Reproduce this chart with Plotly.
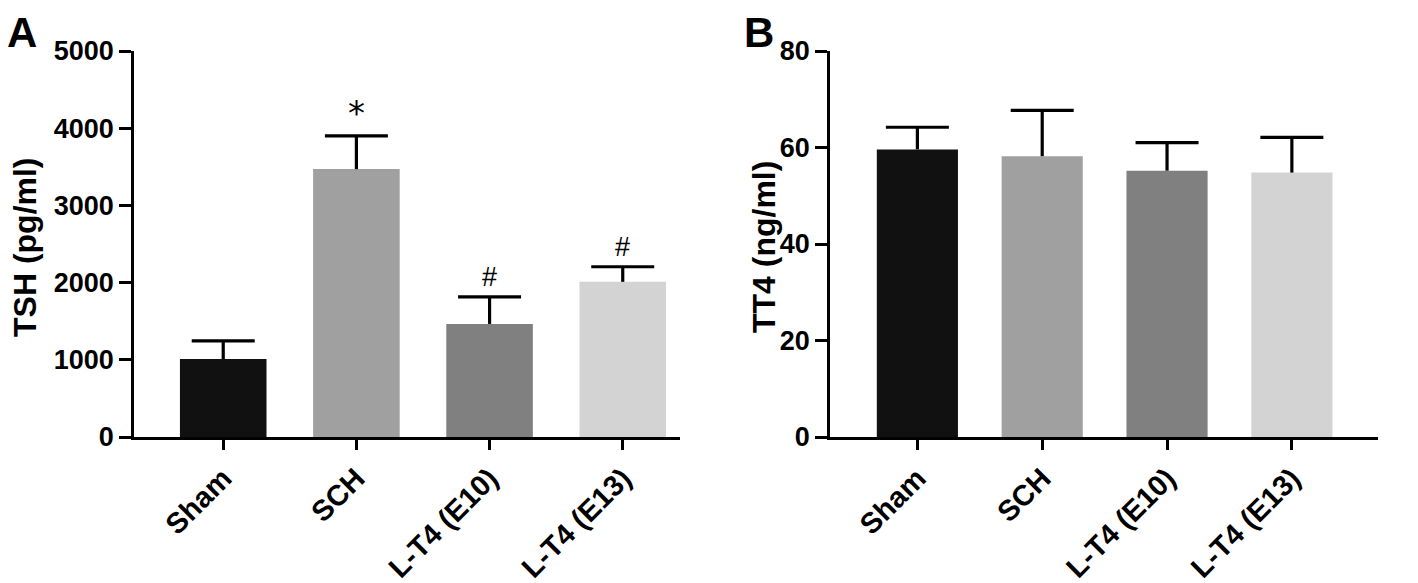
import plotly.graph_objects as go

categories = ["Sham", "SCH", "L-T4 (E10)", "L-T4 (E13)"]
bar_colors = ["#111111", "#a0a0a0", "#808080", "#d3d3d3"]

tsh_mean = [1010, 3470, 1465, 2010]
tsh_sem = [235, 430, 350, 195]
tsh_marks = ["", "*", "#", "#"]

tt4_mean = [59.6, 58.2, 55.2, 54.8]
tt4_sem = [4.6, 9.5, 5.8, 7.3]

tsh_ticks = [0, 1000, 2000, 3000, 4000, 5000]
tt4_ticks = [0, 20, 40, 60, 80]

# page body margin offset (browser default) -> work in screen pixels
OFF = 8
W, H = 1418 - OFF, 583 - OFF
FONT = "Liberation Sans"


def px(x):
    return (x - OFF) / W


def py(y):
    return 1 - (y - OFF) / H


fig = go.Figure()


def add_panel(mean, sem, xa, ya):
    fig.add_trace(go.Bar(
        x=categories, y=mean, width=0.65,
        marker=dict(color=bar_colors, line=dict(width=0)),
        xaxis=xa, yaxis=ya, showlegend=False, hoverinfo="skip"))
    tops = [m + s for m, s in zip(mean, sem)]
    fig.add_trace(go.Scatter(
        x=categories, y=tops, mode="markers",
        marker=dict(symbol="line-ew", size=45, color="black",
                    line=dict(width=3.2, color="black")),
        error_y=dict(type="data", symmetric=False, array=[0] * len(sem),
                     arrayminus=sem, width=0, thickness=3.2, color="black"),
        xaxis=xa, yaxis=ya, showlegend=False, hoverinfo="skip"))
    return tops


tsh_tops = add_panel(tsh_mean, tsh_sem, "x", "y")
add_panel(tt4_mean, tt4_sem, "x2", "y2")

axis_common = dict(showline=True, linecolor="black", linewidth=2.6,
                   ticks="outside", tickcolor="black", tickwidth=2.6,
                   showgrid=False, zeroline=False, automargin=False)
ytickfont = dict(family=FONT, size=27, color="black", weight="bold")
xtickfont = dict(family=FONT, size=29, color="black", weight="bold")

fig.update_layout(
    template="none",
    width=W, height=H,
    margin=dict(l=0, r=0, t=0, b=0, autoexpand=False),
    plot_bgcolor="white", paper_bgcolor="white",
    xaxis=dict(domain=[px(134), px(680)], range=[-0.67, 3.43], ticklen=10,
               tickangle=-45, anchor="y", tickfont=xtickfont, **axis_common),
    yaxis=dict(domain=[py(437), py(51)], range=[0, 5000], tickvals=tsh_ticks,
               ticklen=12, anchor="x", tickfont=ytickfont, **axis_common),
    xaxis2=dict(domain=[px(830), px(1378)], range=[-0.70, 3.69], ticklen=10,
                tickangle=-45, anchor="y2", tickfont=xtickfont, **axis_common),
    yaxis2=dict(domain=[py(437), py(51)], range=[0, 80], tickvals=tt4_ticks,
                ticklen=12, anchor="x2", tickfont=ytickfont, **axis_common),
)

# significance marks
for cat, top, mark in zip(categories, tsh_tops, tsh_marks):
    if not mark:
        continue
    if mark == "*":
        font = dict(family="DejaVu Sans", size=34, color="black")
        shift = 23
    else:
        font = dict(family=FONT, size=27, color="black")
        shift = 20
    fig.add_annotation(x=cat, y=top, xref="x", yref="y", text=mark,
                       showarrow=False, yanchor="middle", yshift=shift, font=font)

# axis titles
title_font = dict(family=FONT, size=32, color="black", weight="bold")
fig.add_annotation(x=px(25), y=py(247), xref="paper", yref="paper",
                   text="TSH (pg/ml)", textangle=-90, showarrow=False,
                   xanchor="center", yanchor="middle", font=title_font)
fig.add_annotation(x=px(764), y=py(247), xref="paper", yref="paper",
                   text="TT4 (ng/ml)", textangle=-90, showarrow=False,
                   xanchor="center", yanchor="middle", font=title_font)

# panel letters
letter_font = dict(family=FONT, size=42, color="black", weight="bold")
fig.add_annotation(x=px(22), y=py(33), xref="paper", yref="paper", text="A",
                   showarrow=False, xanchor="center", yanchor="middle", font=letter_font)
fig.add_annotation(x=px(759), y=py(33), xref="paper", yref="paper", text="B",
                   showarrow=False, xanchor="center", yanchor="middle", font=letter_font)

fig.write_html("out.html")
